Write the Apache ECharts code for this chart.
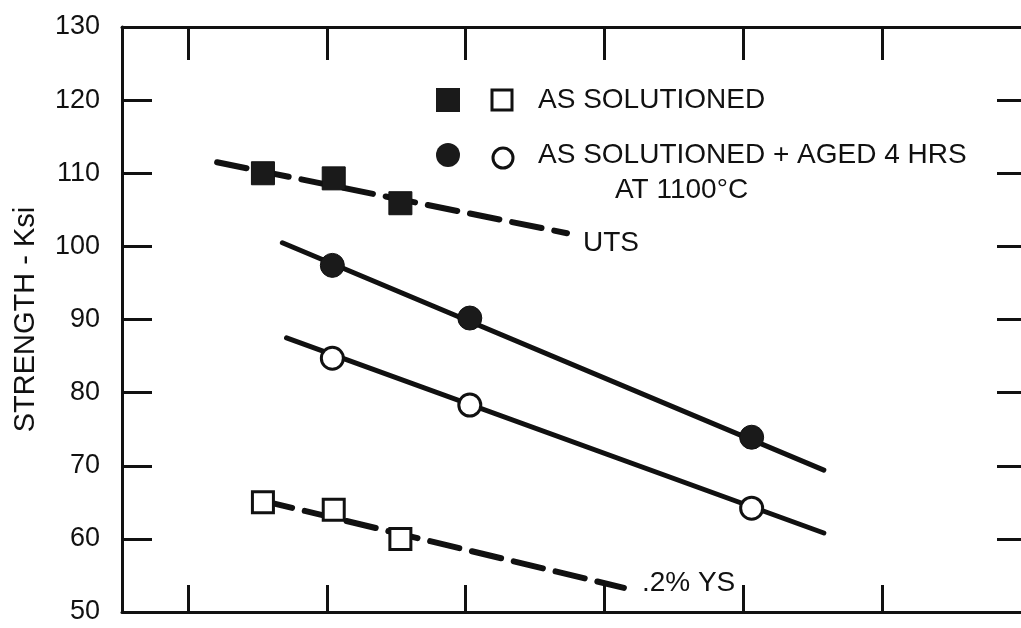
<!DOCTYPE html>
<html><head><meta charset="utf-8">
<script src="https://cdn.jsdelivr.net/npm/echarts@6/dist/echarts.min.js"></script>
<style>html,body{margin:0;padding:0;background:#fff}#c{width:1021px;height:628px}</style>
</head><body><div id="c"></div>
<script>
// Data
const xTicks = [1, 2, 3, 4, 5, 6];
const yTickMin = 50, yTickMax = 130, yTickStep = 10;
// As solutioned (UTS filled squares, YS open squares)
const solX = [1.54, 2.05, 2.53];
const utsSol = [110.0, 109.3, 105.9];
const ysSol = [65.0, 64.0, 60.0];
// As solutioned + aged 4 hrs at 1100C (UTS filled circles, YS open circles)
const agedX = [2.04, 3.03, 5.06];
const utsAged = [97.4, 90.2, 73.9];
const ysAged = [84.7, 78.3, 64.2];
// Fitted trend lines (end points)
const utsSolFitX = [1.21, 3.73], utsSolFit = [111.5, 101.8];
const utsAgedFitX = [1.68, 5.58], utsAgedFit = [100.5, 69.4];
const ysAgedFitX = [1.71, 5.58], ysAgedFit = [87.5, 60.8];
const ysSolFitX = [1.54, 4.14], ysSolFit = [65.2, 53.3];
const legendItems = ['AS SOLUTIONED', 'AS SOLUTIONED + AGED 4 HRS', 'AT 1100°C'];
const lineLabels = ['UTS', '.2% YS'];

const zip = (xs, ys) => xs.map((x, i) => [x, ys[i]]);
const INK = '#111';
const FONT = 'Liberation Sans';

const chart = echarts.init(document.getElementById('c'), null, {renderer: 'canvas'});
const lineSeries = (xs, ys, dashed, label, lw) => ({
  type: 'line', data: zip(xs, ys), symbol: 'none', silent: true, z: 2,
  lineStyle: {color: INK, width: lw, type: dashed ? [30, 13] : 'solid', cap: 'round', opacity: 1},
  endLabel: label ? Object.assign({show: true, formatter: label.text, color: INK,
    fontFamily: FONT, fontSize: 28}, label.opts) : {show: false}
});
const scatter = (xs, ys, symbol, filled, size) => ({
  type: 'scatter', data: zip(xs, ys), symbol: symbol, symbolSize: size, z: 5, silent: true,
  itemStyle: filled ? {color: '#1a1a1a', borderColor: INK, borderWidth: 1, opacity: 1}
                    : {color: '#fff', borderColor: INK, borderWidth: 3, opacity: 1}
});

chart.setOption({
  animation: false,
  backgroundColor: '#fff',
  grid: {left: 122, top: 27, bottom: 16, right: 0},
  xAxis: [{
    type: 'value', min: 0.525, max: 7, position: 'bottom',
    axisLine: {show: true, lineStyle: {color: INK, width: 3}},
    axisTick: {show: true, inside: true, length: 27, customValues: xTicks, lineStyle: {color: INK, width: 3}},
    axisLabel: {show: false}, splitLine: {show: false}
  }, {
    type: 'value', min: 0.525, max: 7, position: 'top',
    axisLine: {show: true, lineStyle: {color: INK, width: 3}},
    axisTick: {show: true, inside: true, length: 33, customValues: xTicks, lineStyle: {color: INK, width: 3}},
    axisLabel: {show: false}, splitLine: {show: false}
  }],
  yAxis: [{
    type: 'value', min: yTickMin, max: yTickMax, interval: yTickStep, position: 'left',
    name: 'STRENGTH - Ksi', nameLocation: 'middle', nameGap: 82, nameRotate: 90,
    nameTextStyle: {color: INK, fontFamily: FONT, fontSize: 29},
    axisLine: {show: true, lineStyle: {color: INK, width: 3}},
    axisTick: {show: true, inside: true, length: 30, lineStyle: {color: INK, width: 3}},
    axisLabel: {color: INK, fontFamily: FONT, fontSize: 27, margin: 22},
    splitLine: {show: false}
  }, {
    type: 'value', min: yTickMin, max: yTickMax, interval: yTickStep, position: 'right',
    axisLine: {show: false},
    axisTick: {show: true, inside: true, length: 24, lineStyle: {color: INK, width: 3}},
    axisLabel: {show: false}, splitLine: {show: false}
  }],
  series: [
    lineSeries(utsSolFitX, utsSolFit, true, {text: lineLabels[0], opts: {distance: 16, offset: [0, 10]}}, 6),
    lineSeries(utsAgedFitX, utsAgedFit, false, null, 5),
    lineSeries(ysAgedFitX, ysAgedFit, false, null, 5),
    lineSeries(ysSolFitX, ysSolFit, true, {text: lineLabels[1], opts: {distance: 18, offset: [0, -5]}}, 6),
    scatter(solX, utsSol, 'rect', true, 23),
    scatter(solX, ysSol, 'rect', false, 21),
    scatter(agedX, utsAged, 'circle', true, 24),
    scatter(agedX, ysAged, 'circle', false, 22)
  ],
  graphic: [
    {type: 'rect', shape: {x: 436, y: 88, width: 24, height: 24}, style: {fill: '#1a1a1a'}},
    {type: 'rect', shape: {x: 492, y: 90, width: 20, height: 20}, style: {fill: '#fff', stroke: INK, lineWidth: 3}},
    {type: 'circle', shape: {cx: 448, cy: 155, r: 12}, style: {fill: '#1a1a1a'}},
    {type: 'circle', shape: {cx: 503, cy: 158, r: 10}, style: {fill: '#fff', stroke: INK, lineWidth: 3}},
    {type: 'text', x: 538, y: 100, style: {text: legendItems[0], fill: INK, font: '28px "Liberation Sans"', textVerticalAlign: 'middle'}},
    {type: 'text', x: 538, y: 155, style: {text: legendItems[1], fill: INK, font: '28px "Liberation Sans"', textVerticalAlign: 'middle'}},
    {type: 'text', x: 615, y: 190, style: {text: legendItems[2], fill: INK, font: '28px "Liberation Sans"', textVerticalAlign: 'middle'}}
  ]
});
</script></body></html>
